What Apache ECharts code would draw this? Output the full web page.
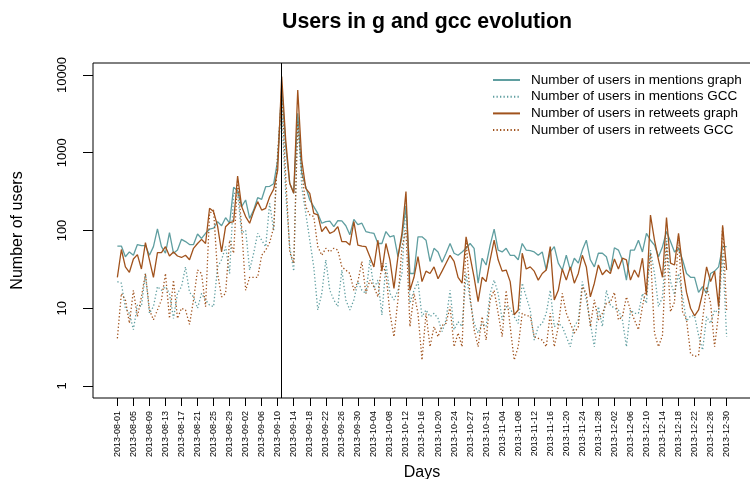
<!DOCTYPE html>
<html>
<head>
<meta charset="utf-8">
<script src="https://cdn.jsdelivr.net/npm/echarts@6/dist/echarts.min.js"></script>
<style>
  html, body { margin: 0; padding: 0; background: #fff; }
  #chart { width: 750px; height: 479px; }
</style>
</head>
<body>
<div id="chart"></div>
<script>
// Day labels shown on the x axis, one every 4 days (2013-10-27 occurs twice in the data)
const tickLabels = [
  '2013-08-01','2013-08-05','2013-08-09','2013-08-13','2013-08-17','2013-08-21','2013-08-25','2013-08-29',
  '2013-09-02','2013-09-06','2013-09-10','2013-09-14','2013-09-18','2013-09-22','2013-09-26','2013-09-30',
  '2013-10-04','2013-10-08','2013-10-12','2013-10-16','2013-10-20','2013-10-24','2013-10-27','2013-10-31',
  '2013-11-04','2013-11-08','2013-11-12','2013-11-16','2013-11-20','2013-11-24','2013-11-28',
  '2013-12-02','2013-12-06','2013-12-10','2013-12-14','2013-12-18','2013-12-22','2013-12-26','2013-12-30'
];
const tickStep = 4;
const yTicks = [1, 10, 100, 1000, 10000];
const eventDay = 41; // 2013-09-11

const mentionsGraph = [
  63,63,46,53,48,66,64,64,48,62,
  105,62,51,94,51,56,77,72,66,66,
  90,79,92,104,107,130,115,146,124,359,
  325,203,247,143,183,264,252,366,370,400,
  807,7080,1200,404,301,3210,543,366,247,203,
  166,124,130,132,112,134,133,115,88,139,
  119,124,97,94,92,68,68,97,83,86,
  46,83,203,28,28,83,83,75,40,59,
  53,39,51,68,51,48,53,59,68,59,
  21,44,36,65,104,56,53,59,48,48,
  42,68,56,55,53,48,53,31,53,62,
  38,31,48,31,44,38,56,75,42,34,
  51,51,46,30,60,56,42,23,56,56,
  75,53,92,75,65,46,62,97,72,53,
  59,42,28,25,25,16,19,15.5,28,30,
  34,62,62
];
const mentionsGCC = [
  22,21,10,8.6,5.3,11,10.5,28,8.6,10.5,
  19,17,19,15.5,7.4,15.5,19,34,16,14,
  10,15.5,12.8,11,10.5,34,42,62,28,300,
  300,92,101,31,51,92,75,62,224,100,
  983,3550,301,62,30,2910,366,166,75,34,
  9.5,15.5,42,17,12.8,10.5,31,12.8,9.5,12.8,
  22,17,15.5,42,18,23,8.2,38,15.5,12.8,
  17,28,224,11.6,17,22,7.8,9.5,7.8,8.6,
  7.4,5,7.1,17,5.3,6.7,5.8,28,12.8,6.4,
  4.8,6.4,5.8,15.5,23,15.5,7.1,10.5,10,7.8,
  6.4,21,14,9.5,3.9,5.8,6.4,8.6,17,5.8,
  6.4,5.8,4.3,3.2,5.8,7.1,22,12.8,6.4,3.2,
  10.5,5.8,17,11,10,9.5,7.1,3.2,9.5,8.6,
  8.6,15.5,11.6,56,28,10.5,14,80,22,15,
  28,14,6.8,8,8,4.5,2.9,7.8,6.4,9.5,
  8.6,51,4.3
];
const retweetsGraph = [
  25,57,34,29,43,49,32,70,42,25,
  52,52,62,47,53,47,45,48,42,59,
  68,77,68,193,175,114,53,112,126,130,
  502,203,151,124,175,235,183,193,272,340,
  600,9520,1460,404,301,6410,807,349,301,166,
  159,97,112,92,97,112,72,72,65,130,
  65,63,62,46,34,75,30,68,42,18,
  46,92,316,17,25,46,22,30,28,34,
  24,30,38,48,40,25,21,83,46,25,
  12.2,25,22,42,75,42,30,31,22,8.2,
  9.5,51,32,34,30,23,28,31,62,12.8,
  17,32,23,34,21,28,48,34,14,21,
  36,27,31,28,43,32,44,42,23,31,
  25,44,14.8,158,75,42,25,147,38,36,
  92,34,16,10,8,9.5,15.5,34,22,30,
  10.5,117,31
];
const retweetsGCC = [
  4.1,15.5,12.8,6.4,17,7.8,14,28,9.5,7.1,
  9.5,12.8,28,7.4,23,7.4,10,9.5,6.2,12.8,
  31,28,10.5,166,183,28,14,15.5,75,51,
  446,112,17,25,25,25,48,56,70,110,
  983,5810,492,53,38,2500,600,203,159,151,
  62,48,59,53,59,56,34,31,28,17,
  22,40,15.5,23,19,14,38,28,8.6,4.3,
  12.8,62,101,5.8,15.5,8.6,2.16,8.6,3.2,5.8,
  4.3,6,6.4,10.5,3.2,4.8,3.2,75,14,5.3,
  3.2,7.8,3.9,12.8,17,8.6,4.3,17,5.8,2.16,
  3.2,8.6,8,8,4.3,4.1,3.9,3.2,8.6,3.2,
  5.8,15.5,8.6,6.4,4.8,5.8,19,15.5,5.8,12.8,
  7.1,8.6,11.6,12,16,7.1,7.8,14,9.5,7.1,
  5.3,10.5,19,51,4.8,3.2,4.5,70,9,12,
  85,9,7.1,2.6,2.4,2.5,7.1,19,11.6,3.2,
  8.6,112,9.5
];

const TEAL = '#5f9ea0';
const BROWN = '#a0521c';
const FONT = '"Liberation Sans", Arial, Helvetica, sans-serif';

const nDays = mentionsGraph.length;
const pad = (nDays - 1) * 0.04;           // 4% range expansion on both sides
const tickIdx = tickLabels.map((_, k) => k * tickStep);
const toPairs = arr => arr.map((v, i) => [i, v]);

function lineSeries(name, values, color, dotted) {
  return {
    name: name,
    type: 'line',
    data: toPairs(values),
    symbol: 'none',
    showSymbol: false,
    smooth: false,
    lineStyle: dotted
      ? { color: color, width: 1.3, type: [1.3, 2.2] }
      : { color: color, width: 1.3, type: 'solid' },
    itemStyle: { color: color },
    emphasis: { disabled: true }
  };
}

const series = [
  lineSeries('Number of users in mentions graph', mentionsGraph, TEAL, false),
  lineSeries('Number of users in mentions GCC', mentionsGCC, TEAL, true),
  lineSeries('Number of users in retweets graph', retweetsGraph, BROWN, false),
  lineSeries('Number of users in retweets GCC', retweetsGCC, BROWN, true)
];
series[0].markLine = {
  silent: true,
  symbol: ['none', 'none'],
  label: { show: false },
  lineStyle: { color: '#000', width: 1, type: 'solid' },
  data: [{ xAxis: eventDay }]
};

const chart = echarts.init(document.getElementById('chart'), null, { renderer: 'canvas' });
chart.setOption({
  animation: false,
  backgroundColor: '#fff',
  textStyle: { fontFamily: FONT },
  title: {
    text: 'Users in g and gcc evolution',
    left: 422,
    textAlign: 'center',
    top: 7,
    textStyle: { fontFamily: FONT, fontWeight: 'bold', fontSize: 21.3, color: '#000' }
  },
  legend: {
    orient: 'vertical',
    left: 492,
    top: 73,
    itemWidth: 27,
    itemHeight: 14,
    itemGap: 2.7,
    padding: 0,
    selectedMode: false,
    itemStyle: { opacity: 0 },
    textStyle: { fontFamily: FONT, fontSize: 13.5, color: '#000', padding: [0, 0, 0, 6] },
    data: series.map(s => s.name)
  },
  grid: {
    left: 93,
    top: 63,
    width: 658,
    height: 335,
    show: true,
    borderColor: '#000',
    borderWidth: 1,
    containLabel: false,
    outerBoundsMode: 'none'
  },
  xAxis: {
    type: 'value',
    min: -pad,
    max: nDays - 1 + pad,
    name: 'Days',
    nameLocation: 'middle',
    nameGap: 66,
    nameTextStyle: { fontFamily: FONT, fontSize: 16, color: '#000' },
    axisLine: { show: false, onZero: false },
    splitLine: { show: false },
    axisTick: { show: true, length: 8, customValues: tickIdx, lineStyle: { color: '#000' } },
    axisLabel: {
      customValues: tickIdx,
      rotate: 90,
      fontSize: 9,
      margin: 13,
      color: '#000',
      fontFamily: FONT,
      formatter: v => tickLabels[Math.round(v / tickStep)]
    }
  },
  yAxis: {
    type: 'log',
    logBase: 10,
    min: 0.701,
    max: 14264,
    name: 'Number of users',
    nameLocation: 'middle',
    nameGap: 67,
    nameRotate: 90,
    nameTextStyle: { fontFamily: FONT, fontSize: 16, color: '#000' },
    axisLine: { show: false, onZero: false },
    splitLine: { show: false },
    axisTick: { show: true, length: 10, customValues: yTicks, lineStyle: { color: '#000' } },
    axisLabel: {
      customValues: yTicks,
      rotate: 90,
      fontSize: 13,
      margin: 24,
      color: '#000',
      fontFamily: FONT,
      formatter: v => String(Math.round(v))
    }
  },
  series: series
});
</script>
</body>
</html>
